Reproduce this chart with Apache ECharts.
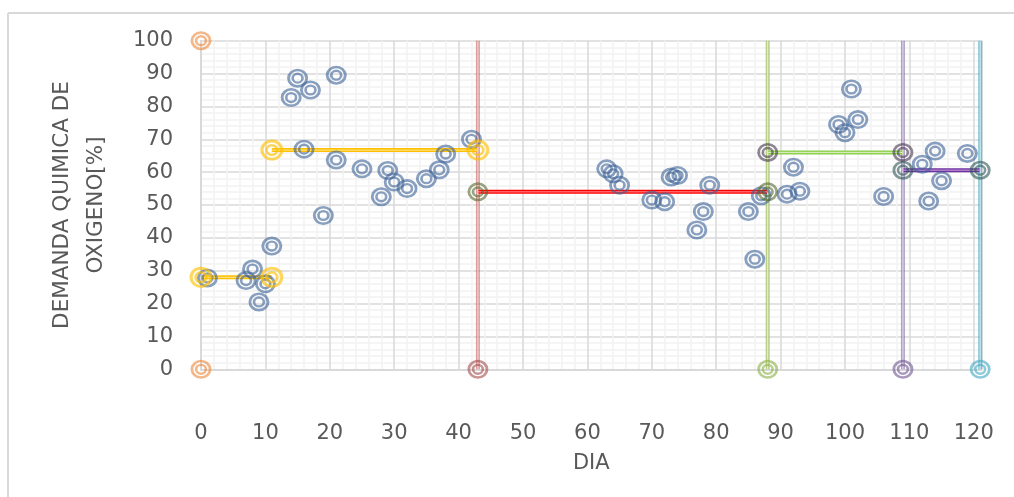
<!DOCTYPE html>
<html>
<head>
<meta charset="utf-8">
<script src="https://cdn.jsdelivr.net/npm/echarts@6/dist/echarts.min.js"></script>
<style>
  html, body { margin: 0; padding: 0; background: #fff; }
  #chart { width: 1014px; height: 497px; }
</style>
</head>
<body>
<div id="chart"></div>
<script>
// datos
var dias = [1, 7, 8, 9, 10, 11, 14, 15, 16, 17, 19, 21, 21, 25, 28, 29, 30, 32, 35, 37, 38, 42,
            63, 64, 65, 70, 72, 73, 74, 77, 78, 79, 85, 86, 87,
            91, 92, 93, 99, 100, 101, 102, 106, 112, 113, 114, 115, 119];
var dqo = [27.8, 27, 30.5, 20.5, 26, 37.5, 82.7, 88.6, 67, 85, 46.8, 89.5, 63.7, 61, 52.5, 60.5, 57, 55, 58, 60.7, 65.5, 70,
           61, 59.5, 56, 51.5, 51, 58.5, 59, 42.4, 48, 56, 48, 33.5, 52.8,
           53.3, 61.5, 54.2, 74.5, 72, 85.3, 76, 52.6, 62.4, 51.2, 66.4, 57.4, 65.7];

// cortes verticales (dia) y tramos horizontales (promedios)
var cortes = [43, 88, 109, 121];
var tramoDias = [[0, 11], [11, 43], [43, 88], [88, 109], [109, 121]];
var tramoValor = [28, 66.7, 54, 66, 60.6];
var xTicks = ['0', '10', '20', '30', '40', '50', '60', '70', '80', '90', '100', '110', '120'];

function circulo(r, cw) {
    var s = cw ? 1 : 0;
    return 'M' + (10 - r) + ' 10A' + r + ' ' + r + ' 0 1 ' + s + ' ' + (10 + r) + ' 10A' + r + ' ' + r + ' 0 1 ' + s + ' ' + (10 - r) + ' 10Z';
}
var anillo = 'path://' + circulo(10, 1) + circulo(7.3, 0) + circulo(5.9, 1) + circulo(3.4, 0);
var tam = [21, 19];

var fuente = 'DejaVu Sans';
var gris = '#595959';

var series = [];

// lineas dobles: trazo ancho + centro claro
function linea(data, color, claro, ancho) {
    series.push({
        type: 'line', data: data, symbol: 'none', silent: true,
        lineStyle: { color: color, width: ancho }, z: 3
    });
    series.push({
        type: 'line', data: data, symbol: 'none', silent: true,
        lineStyle: { color: claro, width: 1 }, z: 4
    });
}

// verticales
var vColor = ['rgba(192,80,77,0.55)', 'rgba(155,187,89,0.7)', 'rgba(128,100,162,0.6)', 'rgba(75,172,198,0.7)'];
var vClaro = ['#f2dcdb', '#ebf1de', '#e5e0ec', '#daeef3'];
var vMarca = ['rgba(160,70,70,0.72)', 'rgba(145,180,80,0.8)', 'rgba(110,85,145,0.75)', 'rgba(75,172,198,0.8)'];
cortes.forEach(function (d, i) {
    linea([[d, 0], [d, 100]], vColor[i], vClaro[i], 4);
    series.push({
        type: 'scatter', data: [[d, 0]], symbol: anillo, symbolSize: tam,
        itemStyle: { color: vMarca[i] }, z: 6, clip: false
    });
});

// naranja en x = 0
series.push({
    type: 'scatter', data: [[0, 0], [0, 100]], symbol: anillo, symbolSize: tam,
    itemStyle: { color: 'rgba(236,130,50,0.72)' }, z: 6, clip: false
});

// horizontales
var hColor = ['#ffc000', '#ffc000', '#ff0000', '#92d050', '#7030a0'];
var hClaro = ['#ffe699', '#ffe699', '#ff9999', '#d8efc4', '#c9a6e0'];
var hMarca = ['rgba(255,192,0,0.8)', 'rgba(255,192,0,0.8)', 'rgba(80,100,40,0.72)', 'rgba(70,55,80,0.75)', 'rgba(45,85,85,0.75)'];
tramoDias.forEach(function (t, i) {
    var data = [[t[0], tramoValor[i]], [t[1], tramoValor[i]]];
    linea(data, hColor[i], hClaro[i], 4);
    series.push({
        type: 'scatter', data: data, symbol: anillo,
        symbolSize: hColor[i] === '#ffc000' ? [23, 21] : tam,
        itemStyle: { color: hMarca[i] }, z: 7, clip: false
    });
});

// puntos medidos
series.push({
    type: 'scatter',
    data: dias.map(function (d, i) { return [d, dqo[i]]; }),
    symbol: anillo, symbolSize: tam,
    itemStyle: { color: 'rgba(58,96,150,0.75)' }, z: 5
});

var chart = echarts.init(document.getElementById('chart'));
chart.setOption({
    animation: false,
    backgroundColor: '#fff',
    textStyle: { fontFamily: fuente },
    graphic: [
        { type: 'line', shape: { x1: 8, y1: 13, x2: 8, y2: 497 }, style: { stroke: '#d9d9d9', lineWidth: 2 } },
        { type: 'line', shape: { x1: 8, y1: 13, x2: 1014, y2: 13 }, style: { stroke: '#d9d9d9', lineWidth: 2 } }
    ],
    grid: { left: 201, right: 32.5, top: 40.7, bottom: 127.7 },
    xAxis: {
        type: 'value', min: 0, max: 121.2, interval: 10,
        name: 'DIA', nameLocation: 'middle', nameGap: 84,
        nameTextStyle: { color: gris, fontSize: 21, fontFamily: fuente },
        axisLine: { show: true, lineStyle: { color: '#d9d9d9', width: 2 } },
        axisTick: { show: false },
        axisLabel: {
            color: gris, fontSize: 21, fontFamily: fuente, margin: 54, showMaxLabel: false,
            formatter: function (v) { return xTicks[Math.round(v / 10)] || ''; }
        },
        splitLine: { show: true, lineStyle: { color: '#d9d9d9', width: 1.5 } },
        minorTick: { show: false, splitNumber: 5 },
        minorSplitLine: { show: true, lineStyle: { color: '#f2f2f2', width: 1.5 } }
    },
    yAxis: {
        type: 'value', min: 0, max: 100, interval: 10,
        name: 'DEMANDA QUIMICA DE\nOXIGENO[%]', nameLocation: 'middle', nameGap: 88, nameRotate: 90,
        nameTextStyle: { color: gris, fontSize: 21.5, fontFamily: fuente, lineHeight: 34, align: 'center' },
        axisLine: { show: true, lineStyle: { color: '#d9d9d9', width: 2 } },
        axisTick: { show: false },
        axisLabel: { color: gris, fontSize: 21, fontFamily: fuente, margin: 28 },
        splitLine: { show: true, lineStyle: { color: '#d9d9d9', width: 1.5 } },
        minorTick: { show: false, splitNumber: 5 },
        minorSplitLine: { show: true, lineStyle: { color: '#f2f2f2', width: 1.5 } }
    },
    series: series
});
</script>
</body>
</html>
